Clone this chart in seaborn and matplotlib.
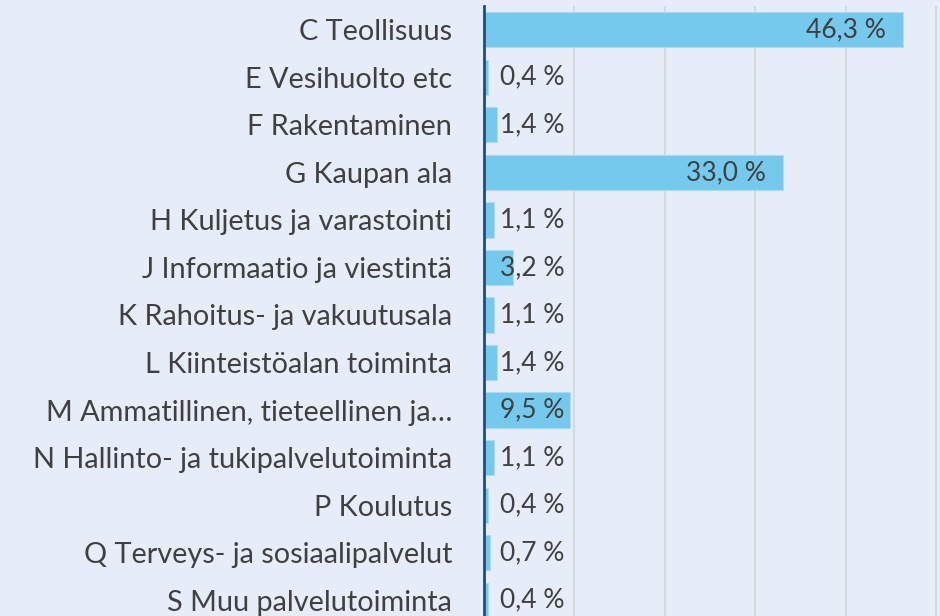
import matplotlib.pyplot as plt
import seaborn as sns
import pandas as pd

sns.set_theme(style="white")
plt.rcParams["font.family"] = ["Lato", "DejaVu Sans"]

categories = [
    "C Teollisuus",
    "E Vesihuolto etc",
    "F Rakentaminen",
    "G Kaupan ala",
    "H Kuljetus ja varastointi",
    "J Informaatio ja viestintä",
    "K Rahoitus- ja vakuutusala",
    "L Kiinteistöalan toiminta",
    "M Ammatillinen, tieteellinen ja…",
    "N Hallinto- ja tukipalvelutoiminta",
    "P Koulutus",
    "Q Terveys- ja sosiaalipalvelut",
    "S Muu palvelutoiminta",
]
shares = [46.3, 0.4, 1.4, 33.0, 1.1, 3.2, 1.1, 1.4, 9.5, 1.1, 0.4, 0.7, 0.4]

BG = "#e6edf8"
BAR = "#75c9ec"
TEXT = "#404040"

df = pd.DataFrame({"category": categories, "share": shares})

fig = plt.figure(figsize=(9.4, 6.16), dpi=100, facecolor=BG)
ax = fig.add_axes([484 / 940, -8 / 616, 1 - 484 / 940, 618 / 616])
ax.set_facecolor(BG)

sns.barplot(data=df, x="share", y="category", orient="h", color=BAR,
            saturation=1, width=0.74, linewidth=0.8, edgecolor="#a9dcf2",
            ax=ax)

ax.set_xlim(0, 50.4)
ax.set_ylim(len(categories) - 0.5, -0.5)
ax.set_xticks([10, 20, 30, 40, 50])
ax.xaxis.grid(True, color="#d6d9dd", linewidth=1.5)
ax.set_axisbelow(True)
ax.tick_params(axis="x", length=0, labelbottom=False)
ax.tick_params(axis="y", length=0, pad=23, labelsize=20.8, labelcolor=TEXT)
ax.set_xlabel("")
ax.set_ylabel("")
for side in ["top", "right", "bottom"]:
    ax.spines[side].set_visible(False)
ax.spines["left"].set_color("#1f4e79")
ax.spines["left"].set_linewidth(2)

# value labels: inside end for big bars, fixed offset for small ones
for i, v in enumerate(shares):
    label = f"{v:.1f}".replace(".", ",") + " %"
    if v > 20:
        ax.text(v - 1.85, i, label, ha="right", va="center",
                fontsize=19, color=TEXT)
    else:
        ax.text(1.75, i, label, ha="left", va="center",
                fontsize=19, color=TEXT)

plt.savefig("out.png", dpi=100, facecolor=BG)
plt.close()
